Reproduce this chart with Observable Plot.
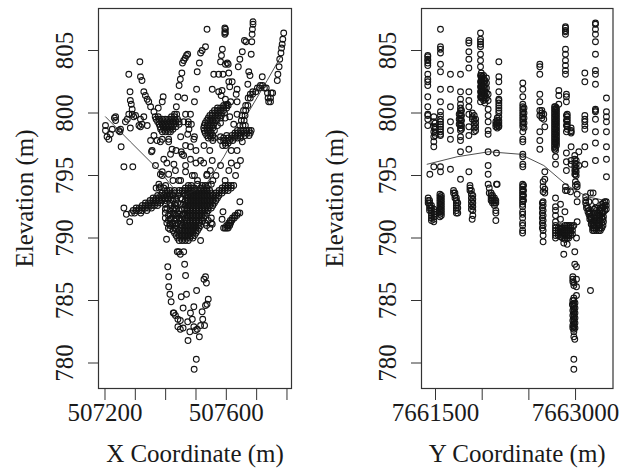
<!DOCTYPE html>
<html><head><meta charset="utf-8">
<script src="https://cdn.jsdelivr.net/npm/d3@7"></script>
<script src="https://cdn.jsdelivr.net/npm/@observablehq/plot@0.6"></script>
<style>html,body{margin:0;padding:0;background:#fff}#c{display:flex;width:621px;height:472px}svg{display:block;overflow:visible}</style>
</head><body><div id="c"></div>
<script>
const xTicks=[507200,507300,507400,507500,507600,507700,507800];
const xLabelled=[507200,507600];
const yCoordTicks=[7661500,7662000,7662500,7663000];
const yCoordLabelled=[7661500,7663000];
const elevTicks=[780,785,790,795,800,805];
const xCurve=[[507200,799.7],[507281,797.7],[507379,795.3],[507444,793.3],[507526,794.2],[507586,796.5],[507662,799.9],[507727,802.6],[507771,804.5]];
const yCurve=[[7661379,795.9],[7661698,796.5],[7662035,796.9],[7662372,796.7],[7662620,795.8],[7662869,794.2],[7663081,793.3],[7663276,793]];
const xTop=[[507531,806.7],[507589,806.8],[507591,806.7],[507589,806.5],[507591,806.4],[507589,806.3],[507681,807.3],[507681,807.1],[507679,806.7],[507678,806.3],[507677,805.7],[507675,804.7],[507653,805.8],[507658,805.7],[507646,804.9],[507638,804.3],[507633,803.7],[507781,806.4],[507778,805.9],[507776,805.5],[507774,805.2],[507772,804.8],[507768,804.3],[507766,803.7],[507762,803.1],[507760,802.6],[507468,804.7],[507464,804.6],[507460,804.4],[507455,804.2],[507451,804],[507449,803.2],[507444,802.7],[507440,802.2],[507526,805.3],[507515,805],[507510,804.8],[507506,804],[507499,803.3],[507581,805.1],[507578,804.6],[507575,804.1],[507597,804],[507591,803.9],[507600,803.9],[507569,803.1],[507553,803.1],[507583,803.1],[507602,803.2],[507312,804.1],[507276,803.1],[507314,802.9],[507319,802.6],[507280,801.7],[507281,801],[507284,800.7],[507287,800.3],[507325,801.7],[507330,801.4],[507336,801.1],[507341,800.9],[507347,800.5],[507358,800.1],[507372,800.4],[507388,801.3],[507385,800.9],[507436,801.3],[507458,801.2],[507431,800.5],[507490,800.9],[507497,801.9],[507613,802.5],[507602,802.5],[507605,802.1],[507629,801.9],[507626,801.5],[507667,803.3],[507671,803],[507664,802.3],[507711,802.9]];
const xLeft=[[507200,799],[507200,798.6],[507205,798.1],[507211,797.9],[507216,798.3],[507222,798.7],[507229,799.6],[507233,799.4],[507249,798.7],[507243,798.6],[507265,799.3],[507276,799.9],[507287,799.9],[507298,799.8],[507314,799.5],[507325,799.7],[507336,799],[507314,798.9],[507281,798.8],[507309,799],[507251,797.3],[507260,795.7],[507289,795.7],[507292,799.7],[507271,799.5],[507319,799.1],[507233,799.7],[507247,798.5]];
const xMiddle=[[507548,801.9],[507569,801.7],[507580,801.8],[507577,801.4],[507591,801.1],[507597,800.7],[507629,800.9],[507608,800.9],[507629,799.9],[507605,799.7],[507618,799.1],[507629,797],[507646,797.7],[507640,796.2],[507629,795.8],[507602,795.4],[507624,795],[507575,795.8],[507548,796.2],[507510,796.2],[507542,795.4],[507531,795.1],[507521,797.4],[507488,797.9],[507477,797.3],[507461,797.4],[507450,796.7],[507447,796.9],[507455,796.6],[507477,796.3],[507461,795.8],[507423,795.9],[507428,795.4],[507461,795.3],[507483,795],[507439,794.6],[507417,797.1],[507412,796.7],[507390,796.3],[507363,795.8],[507385,795.3],[507379,795.1],[507406,795.1],[507374,794.3],[507379,794.1],[507396,794.2],[507350,796.9],[507352,797],[507347,797.8],[507358,798.2],[507385,797.9],[507379,797.7],[507368,797.8],[507406,797.9],[507406,797.7],[507477,799.9],[507461,799.9],[507472,798.7],[507468,798.3]];
const xLower=[[507439,788.9],[507444,788.7],[507455,788.9],[507434,788.9],[507458,787.9],[507403,787.7],[507406,786.9],[507461,787],[507406,786.1],[507526,786.9],[507521,786.7],[507529,786.4],[507410,785.5],[507414,784.9],[507447,785.3],[507464,785.5],[507497,785.8],[507535,785.1],[507526,784.6],[507531,784.7],[507453,784.4],[507488,784.5],[507515,784.1],[507477,784],[507483,783.5],[507468,783.3],[507421,784],[507428,783.8],[507436,783.5],[507444,783.4],[507423,784],[507436,782.9],[507444,782.7],[507453,782.8],[507517,783.5],[507523,783],[507510,783],[507499,782.7],[507493,782.6],[507488,782.9],[507475,782.5],[507506,782.1],[507469,781.8],[507496,780.3],[507489,779.5],[507260,792.4],[507268,791.9],[507279,791.3],[507638,792.9],[507399,789.9],[507510,789.8],[507548,791.1],[507583,792.1],[507580,791.5]];
const xRows=[
[794.2,[507470,507480,507515,507525,507535,507590,507600,507610,507618]],
[794,[507365,507375,507390,507460,507470,507480,507490,507510,507520,507530,507580,507590,507600,507610]],
[793.8,[507400,507410,507425,507440,507450,507460,507470,507480,507490,507500,507510,507520,507530,507540,507570,507580,507590,507600]],
[793.6,[507385,507395,507405,507415,507425,507440,507455,507465,507475,507485,507495,507505,507515,507525,507535,507545,507560,507570,507580]],
[793.4,[507370,507380,507390,507400,507410,507420,507435,507460,507470,507480,507490,507500,507510,507520,507530,507540,507550,507560,507570]],
[793.2,[507355,507365,507375,507385,507395,507405,507445,507465,507475,507485,507495,507505,507515,507525,507535,507545,507555,507565]],
[793,[507345,507355,507365,507375,507385,507395,507420,507460,507470,507480,507490,507500,507510,507520,507530,507540,507550,507560]],
[792.8,[507330,507340,507350,507360,507370,507380,507410,507435,507465,507475,507485,507495,507505,507515,507525,507535,507545,507555]],
[792.6,[507320,507330,507340,507350,507360,507370,507415,507430,507460,507470,507480,507490,507500,507510,507520,507530,507540,507550]],
[792.4,[507300,507310,507320,507330,507340,507350,507400,507425,507465,507475,507485,507495,507505,507515,507525,507535,507545]],
[792.2,[507290,507300,507310,507320,507335,507410,507440,507465,507475,507485,507495,507505,507515,507525,507535]],
[792,[507285,507295,507315,507395,507420,507435,507460,507470,507480,507490,507500,507510,507520,507530,507632,507638]],
[791.8,[507405,507430,507450,507465,507475,507485,507495,507505,507515,507525,507622,507628]],
[791.6,[507395,507415,507440,507460,507470,507480,507490,507500,507510,507520,507545,507614,507620]],
[791.4,[507405,507425,507445,507465,507475,507485,507495,507505,507515,507535,507607,507612]],
[791.2,[507400,507420,507435,507455,507465,507475,507485,507495,507505,507525,507545,507602,507608]],
[791,[507410,507430,507450,507460,507470,507480,507490,507500,507510,507530,507595,507600,507605]],
[790.8,[507405,507425,507445,507455,507465,507475,507485,507495,507505,507540,507585,507590,507595,507600]],
[790.6,[507420,507440,507450,507460,507470,507480,507490,507500]],
[790.4,[507425,507435,507445,507455,507465,507475,507485,507495]],
[790.2,[507430,507440,507450,507460,507470,507480,507490]],
[790,[507435,507445,507455,507465,507475,507485]],
[789.8,[507440,507450,507460,507470]]];
const xUpperRows=[
[802.2,[507705,507712]],[802,[507695,507702,507718,507724]],[801.7,[507680,507690]],[801.6,[507728,507740,507745]],[801.5,[507672,507680]],[801.2,[507665,507672,507730,507738]],[800.9,[507732,507738]],
[800.6,[507585,507592,507600,507657,507664]],[800.4,[507565,507575,507585,507595]],[800.2,[507555,507565,507575,507585,507650,507657]],[800,[507548,507558,507568,507578,507588]],
[799.9,[507425,507432]],[799.8,[507540,507548,507558,507568,507578,507645,507655]],[799.7,[507362,507372,507415,507425]],[799.6,[507535,507545,507555,507565,507575,507590]],
[799.5,[507365,507375,507385,507395,507405,507415,507425,507435]],[799.4,[507530,507540,507550,507562,507643,507652]],[799.3,[507370,507380,507390,507400,507410,507420,507430,507440,507455,507470]],
[799.2,[507525,507535,507545,507555,507575]],[799.1,[507375,507385,507395,507405,507415,507425,507440,507470,507480]],[799,[507522,507532,507542,507552,507565,507638,507648,507656]],
[798.9,[507378,507388,507398,507408,507418,507430]],[798.8,[507520,507530,507540,507550]],[798.7,[507380,507390,507400,507410,507420]],
[798.6,[507522,507532,507542,507555,507630,507640,507650,507660,507668,507675]],[798.5,[507385,507395,507405,507412]],[798.4,[507525,507535,507545,507622,507632,507642,507652,507662,507672]],
[798.2,[507530,507540,507550,507595,507612,507622,507632,507642,507655,507668]],[798,[507535,507545,507555,507585,507600,507610,507620,507630,507640]],[797.8,[507550,507575,507585,507595,507605,507615]],[797.6,[507590,507600]],[797.4,[507582,507592]]];
const xFill=[
[793.1,[507405,507415,507430,507450]],[792.7,[507395,507425,507445,507455]],[792.3,[507395,507420,507430,507450,507458]],[791.9,[507410,507425,507440,507455]],[791.5,[507410,507430,507450]],[791.1,[507410,507425,507445]],[790.7,[507410,507430]],
[794.3,[507500,507545]],[795,[507385,507490,507530,507560]],[794.6,[507420,507445,507500,507550,507590]],[796,[507400,507495,507520,507610]],[797,[507430,507495,507540,507610]],[798.1,[507445,507490,507575]]];
const yUpper=[
[7661386,[804.6,804.5,804.3,804.2,804,803.8,803.1,802.7,802.5,802.2,801.3,800.5,799.9,799.8,799.5,799]],
[7661450,[799.7,799.3,798.9,798.5,798.1,797.7,797.3,795.7]],
[7661465,[799.2,798.9,798.7,798.4,798.2]],
[7661408,[795.1]],
[7661521,[806.7,805.3,805.1,804.8,803.9,803.3,801.9,800.9,800.1,799.8,799.5,799.3,799.1,798.9,798.7,798.5,798.3,798.2,795.7,795.3]],
[7661627,[803.1,801.9,800.5,799.3,798.6,797.9,795.5]],
[7661734,[803.1,801.7,801.1,800.7,800.4,800.2,800,799.8,799.6,799.4,799.2,799,798.8,798.6,798.1,797.8,796.9,794.7]],
[7661745,[800.2,799.8,799.4,799,798.7]],[7661720,[799.9,799.5,799.1]],
[7661823,[805.8,805.6,804.9,804.3,803.6,801.7,801,800.5,799.9,798.9,798.2,797.1,795.3]],
[7661860,[800,799.7,799.5]],[7661880,[799.8,799.4,799.1,798.8,798.5]],[7661895,[799.5,799.2,798.9,798.6]],
[7661947,[806.4,805.9,805.7,805.5,805.3,804.7,804.2,803.7,803,802.5,802.1,801.7,801.3,800.9]],
[7661955,[803.2,803,802.8,802.6,802.4,802.2,802,801.8,801.6,801.4,801.2]],
[7661965,[802.9,802.7,802.5,802.3,802.1,801.9,801.7,801.5,801.3]],
[7661980,[803,802.7,802.4,802.1,801.8,801.5,801.2,801]],
[7661995,[802.6,802.3,802,801.7,801.4,801.1,800.8]],
[7662010,[802.8,802.4,802,801.6,801.2]],
[7662028,[801.5,801,800.3,799.8,799.3,798.6,798.3,796.9,795.8,795.1,794.3]],
[7662117,[796.8,794.3]],
[7662142,[804.1,802.9,802.5,801.7,801.1,801,800.8,800.6,800.4,800.2,800,799.7,799.4,799.2,799,798.9]],
[7662125,[799.6,799.4,799.2,799,798.8]],[7662110,[799.3,799.1,798.9]],
[7662397,[802.4,801.9,801.3,800.7,800.5,800.3,800.1,799.9,799.7,799.5,799.3,799.1,798.9,798.5,797.9,797.7,796.7,796.5,795.9,795.7]],
[7662410,[800.4,800,799.6,799.2,798.8]],
[7662578,[803.9,803.7,803.1,801.5,800.9,800.2,799.8,798.5,797.8,797.1]],
[7662600,[800.2,800,799.8,799.6]],[7662620,[799.9,799.5]],
[7662631,[798.9,795.3,794.7,793.9,793.6]],
[7662735,[800.5,800.3,800.1,799.9,799.7,799.5,799.3,799.1,798.9,798.7,798.5,798.3,798.1,797.9,797.7,797.5,797.3,797.1]],
[7662745,[800.5,800.2,799.8,799.4,799.1,798.7,798.3,797.9,797.6,797.2,797,796.5,795.9]],
[7662755,[800.4,800.2,800,799.8,799.6,799.4,799.2,799,798.8,798.6,798.4,798.2,798,797.8,797.6,797.4]],
[7662780,[801.8,801.4,800.7]],
[7662861,[801.5,801.3,800.9,799.8,799.4,799,798.5,796.8,796.1,795.4]],
[7662870,[799.9,799.7,799.5,799.3,799.1,798.9,798.7]],
[7662851,[806.9,806.8,806.6,806.5,806.3,805.1,804.7,804.2,803.8,803.4,803.1,794.1,793.8]],
[7662911,[798.8,798.5,798.6,798.4,797.3,796.2,795.9]],
[7662950,[796.6,796.3,796,795.7,795.4,795.1]],
[7662957,[795.4,795.1,794.5,794.2]],
[7662965,[796.2,795.9,795.6,795.3,795]],
[7662993,[796.9,795.8]],
[7663057,[803.2,802.5,799.8,799.5,799.3,799,798.7,797.3,795.9]],
[7663170,[807.2,807.1,806.7,806.3,805.7,804.7,803.4,803.1,802.3,800.3,800.2,800.1,799.5,798.5,797.6,796.2]],
[7663287,[801.2,800.1,799.7,799.3,798.5,797.3,796.3,794.9]]];
const yLower=[
[7661390,[793.2,793,792.8]],
[7661405,[793,792.8,792.6,792.4,792.2]],
[7661425,[792.6,792.4,792.2,792,791.8,791.6,791.4]],
[7661450,[792.3,792.1,791.9,791.7,791.5,791.3]],
[7661515,[793.5,793.3,793.1,792.9,792.7,792.5,792.3,792.1,791.9,791.7]],
[7661530,[793.4,793.2,793,792.8,792.6,792.4,792.2,792,791.8]],
[7661660,[793.8,793.6]],[7661675,[793.6,793.4,793.2]],
[7661690,[793.2,793,792.8,792.6,792.4,792.2,792]],[7661705,[792.8,792.4,792]],
[7661835,[794.2,794,793.8]],[7661850,[793.8,793.5,793.2,792.9,792.6,792.3]],[7661865,[793.4,793.1,792.8,792.5,792.2,791.8]],[7661858,[791.5]],
[7662040,[794,793.6]],[7662060,[793.6,793.4,793.2,793]],[7662075,[793.4,793.2,793,792.8]],[7662095,[793.2,793,792.8,792.6]],[7662110,[793,792.8,792.2,792,791.4]],[7662124,[794.3]],
[7662395,[794.3,794.1,793.9,793.7,793.5,793.3,793.1,792.9,792.7,792.5,792.1,791.9,791.6,791.2,791,790.6,790.4]],
[7662405,[794.2,793.8,793.4,793]],
[7662613,[794.5,794.1,793.7,792.9,792.6,792.2,791.8,791.4,791,790.6,790.2,789.7]],
[7662605,[792.8,792.4,792,791.6,791.2,790.8]],
[7662745,[793.2,792.5,792.2,791.8,791.3,791,790.8,790.6,790.4,790.2,790]],
[7662775,[790.8,790.6,790.4,790.2]],[7662798,[792.7,791.5,790.9,790.7,790.5,790.3,790.1]],
[7662820,[790.8,790.6,790.4,790.2,790]],[7662845,[792.1,791,790.8,790.6,790.4,790.2,790,789.9]],
[7662865,[791,790.8,790.6,790.4,790.2,790]],[7662885,[791,790.8,790.6,790.4,790.2,790]],[7662905,[791,790.8,790.6,790.4,790.2,793.7]],[7662925,[790.9,790.6,790.3,784.7]],
[7662833,[789.6,788.7]],[7662869,[789.5,793.8]],
[7662968,[790,787.7,786.7,786.1,785.4]],
[7662975,[791.3,792.9,794.3,794.1,793.5]],
[7662950,[788.9,787.9,781.9]],
[7662929,[786.9,786.7,786.5,785,784.6,784.2,783.8,783.4,783,782.8]],
[7662940,[791,786.4,786.2,785.2,785,784.7,784.5,784.3,784.1,783.9,783.7,783.5,783.3,783.1,782.9,782.7,782.5,782.1,780.3,779.5]],
[7662952,[784.8,784.4,784,783.6,783.2,782.8]],
[7663117,[785.8,793.6]],[7663145,[793.6]],
[7663066,[793.3,793,792.8]],[7663075,[792.6,792.4]],[7663090,[792.4,792.1]],[7663100,[792.9,792.2,791.9]],[7663110,[792,791.7,791.5]],[7663125,[791.6,791.4,791.1]],[7663140,[791.2,791,790.8,790.6]],[7663155,[791.4,791,790.6,792.3]],
[7663170,[792.9,792.4,792,791.6,791.2,790.8]],[7663190,[792,791.6,791.2]],[7663205,[791.8,791.4,791,790.6]],[7663222,[792.4,792.2,791.8,791.4,790.8,790.6]],[7663238,[792.7,792.4,792,791.6,791.2,790.8]],[7663255,[792.8,792.5,792.1,791.7,791.3]],[7663270,[792.9,792.6,792.2]],[7663285,[792.9,792.6,792.3]],
[7663180,[792.2,791.8,791.4,791,790.6]],[7663215,[792.2,791.6,791.2,790.8]],[7663150,[792,791.7,791.2,790.8]],[7663250,[792.5,792,791.5,791]]];

// The readings above were taken against a first estimate of the tick spacing; these correct them to the measured ticks.
const fixX=x=>507200+((x-507200)/3.26+0.5)*3.297;
const fixY=y=>7661500+((y-7661500)/10.64+3)*10.71;
const xPoints=[...xTop,...xLeft,...xMiddle,...xLower,...[...xRows,...xUpperRows,...xFill].flatMap(([z,xs])=>xs.map(x=>[x,z]))].map(([x,z])=>[fixX(x),z]);
const yPoints=[...yUpper,...yLower].flatMap(([y,zs])=>zs.map(z=>[fixY(y),z]));

const FONT='"Liberation Serif",serif', INK="#1a1a1a";
function panel(o){
  return Plot.plot({
    width:o.width,height:472,marginLeft:o.ml,marginRight:o.mr,marginTop:8,marginBottom:84,
    style:{fontFamily:FONT,background:"#fff",color:INK},
    x:{domain:o.xDomain,label:null},
    y:{domain:[777.96,808.36],label:null},
    marks:[
      Plot.frame({stroke:"#333",strokeWidth:1.2}),
      Plot.dot(o.points,{x:"0",y:"1",r:2.9,stroke:"#141414",strokeWidth:1.05,fill:"none"}),
      Plot.line(o.curve,{x:"0",y:"1",stroke:"#222",strokeWidth:0.8}),
      Plot.axisX({ticks:o.ticks,tickSize:12,tickPadding:3,fontSize:25,stroke:"#333",
        tickFormat:d=>o.labelled.includes(d)?String(d):"",
        label:o.xLabel,labelAnchor:"center",labelArrow:"none",labelOffset:73}),
      Plot.axisY({ticks:elevTicks,tickSize:10,tickPadding:16,fontSize:25,tickRotate:-90,stroke:"#333",
        tickFormat:d=>String(d),
        label:"Elevation (m)",labelAnchor:"center",labelArrow:"none",labelOffset:o.ml-24+9})
    ]
  });
}
const host=document.getElementById("c");
host.append(panel({width:310,ml:98,mr:19,xDomain:[507178.6,507814.9],points:xPoints,curve:xCurve.map(([x,z])=>[fixX(x),z]),ticks:xTicks,labelled:xLabelled,xLabel:"X Coordinate (m)"}));
host.append(panel({width:311,ml:111,mr:8.5,xDomain:[7661350,7663401],points:yPoints,curve:yCurve.map(([y,z])=>[fixY(y),z]),ticks:yCoordTicks,labelled:yCoordLabelled,xLabel:"Y Coordinate (m)"}));
</script></body></html>
